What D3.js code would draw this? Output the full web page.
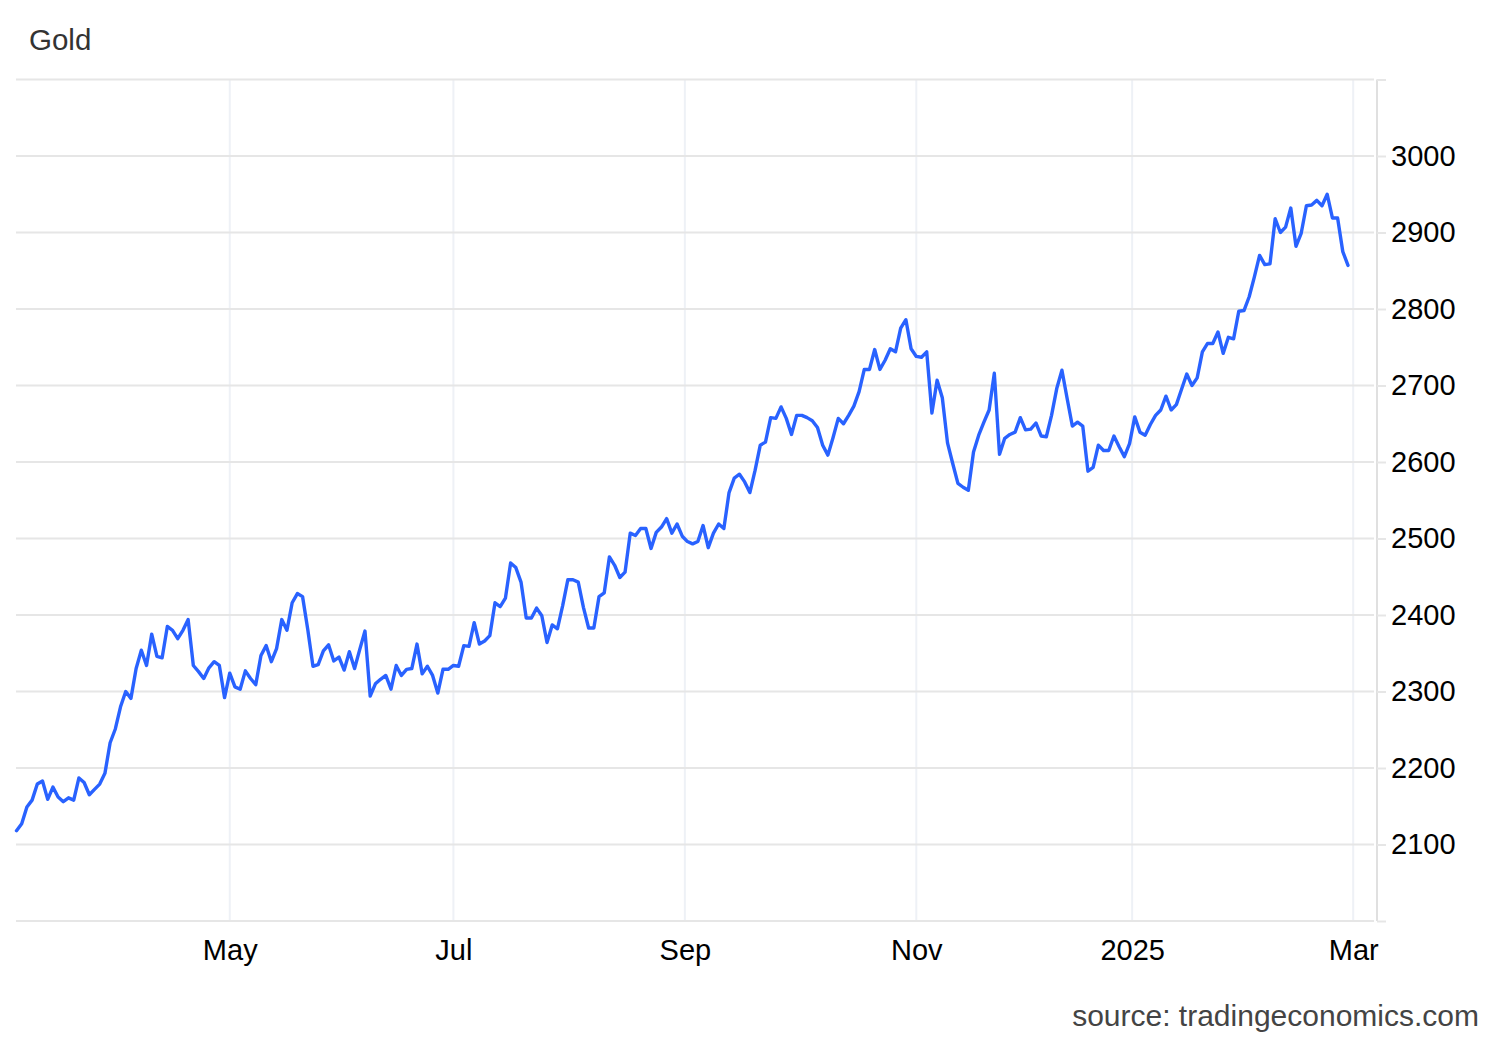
<!DOCTYPE html>
<html><head><meta charset="utf-8">
<script src="https://cdn.jsdelivr.net/npm/d3@7"></script>
<style>
body{margin:0;background:#fff}
svg{display:block}
text{font-family:"Liberation Sans", Arial, Helvetica, sans-serif}
</style>
</head><body>
<svg id="chart" width="1500" height="1040"></svg>
<script>
// ---- data ----
const title = "Gold";
const sourceText = "source: tradingeconomics.com";

const dates = [
"2024-03-04","2024-03-05","2024-03-06","2024-03-07","2024-03-08","2024-03-11","2024-03-12","2024-03-13","2024-03-14","2024-03-15","2024-03-18","2024-03-19","2024-03-20","2024-03-21","2024-03-22","2024-03-25","2024-03-26","2024-03-27","2024-03-28",
"2024-04-01","2024-04-02","2024-04-03","2024-04-04","2024-04-05","2024-04-08","2024-04-09","2024-04-10","2024-04-11","2024-04-12","2024-04-15","2024-04-16","2024-04-17","2024-04-18","2024-04-19","2024-04-22","2024-04-23","2024-04-24","2024-04-25","2024-04-26","2024-04-29","2024-04-30",
"2024-05-01","2024-05-02","2024-05-03","2024-05-06","2024-05-07","2024-05-08","2024-05-09","2024-05-10","2024-05-13","2024-05-14","2024-05-15","2024-05-16","2024-05-17","2024-05-20","2024-05-21","2024-05-22","2024-05-23","2024-05-24","2024-05-27","2024-05-28","2024-05-29","2024-05-30","2024-05-31",
"2024-06-03","2024-06-04","2024-06-05","2024-06-06","2024-06-07","2024-06-10","2024-06-11","2024-06-12","2024-06-13","2024-06-14","2024-06-17","2024-06-18","2024-06-19","2024-06-20","2024-06-21","2024-06-24","2024-06-25","2024-06-26","2024-06-27","2024-06-28",
"2024-07-01","2024-07-02","2024-07-03","2024-07-04","2024-07-05","2024-07-08","2024-07-09","2024-07-10","2024-07-11","2024-07-12","2024-07-15","2024-07-16","2024-07-17","2024-07-18","2024-07-19","2024-07-22","2024-07-23","2024-07-24","2024-07-25","2024-07-26","2024-07-29","2024-07-30","2024-07-31",
"2024-08-01","2024-08-02","2024-08-05","2024-08-06","2024-08-07","2024-08-08","2024-08-09","2024-08-12","2024-08-13","2024-08-14","2024-08-15","2024-08-16","2024-08-19","2024-08-20","2024-08-21","2024-08-22","2024-08-23","2024-08-26","2024-08-27","2024-08-28","2024-08-29","2024-08-30",
"2024-09-02","2024-09-03","2024-09-04","2024-09-05","2024-09-06","2024-09-09","2024-09-10","2024-09-11","2024-09-12","2024-09-13","2024-09-16","2024-09-17","2024-09-18","2024-09-19","2024-09-20","2024-09-23","2024-09-24","2024-09-25","2024-09-26","2024-09-27","2024-09-30",
"2024-10-01","2024-10-02","2024-10-03","2024-10-04","2024-10-07","2024-10-08","2024-10-09","2024-10-10","2024-10-11","2024-10-14","2024-10-15","2024-10-16","2024-10-17","2024-10-18","2024-10-21","2024-10-22","2024-10-23","2024-10-24","2024-10-25","2024-10-28","2024-10-29","2024-10-30","2024-10-31",
"2024-11-01","2024-11-04","2024-11-05","2024-11-06","2024-11-07","2024-11-08","2024-11-11","2024-11-12","2024-11-13","2024-11-14","2024-11-15","2024-11-18","2024-11-19","2024-11-20","2024-11-21","2024-11-22","2024-11-25","2024-11-26","2024-11-27","2024-11-28","2024-11-29",
"2024-12-02","2024-12-03","2024-12-04","2024-12-05","2024-12-06","2024-12-09","2024-12-10","2024-12-11","2024-12-12","2024-12-13","2024-12-16","2024-12-17","2024-12-18","2024-12-19","2024-12-20","2024-12-23","2024-12-24","2024-12-26","2024-12-27","2024-12-30","2024-12-31",
"2025-01-02","2025-01-03","2025-01-06","2025-01-07","2025-01-08","2025-01-09","2025-01-10","2025-01-13","2025-01-14","2025-01-15","2025-01-16","2025-01-17","2025-01-20","2025-01-21","2025-01-22","2025-01-23","2025-01-24","2025-01-27","2025-01-28","2025-01-29","2025-01-30","2025-01-31",
"2025-02-03","2025-02-04","2025-02-05","2025-02-06","2025-02-07","2025-02-10","2025-02-11","2025-02-12","2025-02-13","2025-02-14","2025-02-17","2025-02-18","2025-02-19","2025-02-20","2025-02-21","2025-02-24","2025-02-25","2025-02-26","2025-02-27","2025-02-28"
];

const prices = [
2118,2127,2149,2158,2179,2183,2159,2175,2162,2156,2161,2158,2187,2181,2165,2172,2179,2193,2233,
2251,2280,2300,2291,2330,2354,2334,2375,2346,2344,2385,2380,2369,2380,2394,2334,2326,2317,2331,2339,2334,2292,
2324,2306,2303,2327,2317,2309,2347,2360,2339,2356,2394,2380,2416,2428,2424,2381,2333,2335,2353,2361,2340,2345,2328,
2352,2330,2355,2379,2294,2310,2316,2321,2303,2334,2321,2329,2330,2362,2323,2333,2321,2298,2329,2329,
2334,2333,2360,2359,2390,2362,2366,2373,2416,2411,2422,2468,2462,2443,2396,2396,2409,2399,2364,2387,2382,2412,2446,
2446,2443,2410,2383,2383,2424,2429,2476,2465,2449,2456,2507,2504,2513,2513,2487,2508,2515,2526,2507,2519,2503,
2496,2493,2496,2517,2488,2507,2519,2513,2560,2579,2584,2574,2560,2589,2622,2626,2658,2657,2672,2657,2636,
2661,2661,2658,2654,2645,2622,2609,2632,2657,2650,2661,2673,2692,2721,2721,2747,2721,2733,2748,2744,2775,2786,2748,
2738,2737,2744,2664,2707,2684,2625,2598,2572,2567,2563,2613,2635,2652,2668,2716,2610,2631,2636,2639,2658,
2642,2643,2651,2634,2633,2661,2696,2720,2683,2647,2652,2647,2588,2593,2622,2615,2615,2634,2620,2607,2624,
2659,2639,2635,2649,2661,2668,2686,2668,2675,2695,2715,2700,2710,2744,2755,2755,2770,2742,2763,2761,2797,2798,
2816,2842,2870,2858,2859,2918,2900,2907,2932,2882,2899,2935,2936,2942,2935,2950,2919,2919,2875,2857
];

const yGridValues = [2000,2100,2200,2300,2400,2500,2600,2700,2800,2900,3000,3100];
const yTickLabels = [2100,2200,2300,2400,2500,2600,2700,2800,2900,3000];
const monthLabels = ["May","Jul","Sep","Nov","2025","Mar"];
const monthStarts = ["2024-05-01","2024-07-01","2024-09-01","2024-11-01","2025-01-01","2025-03-01"];

// ---- layout ----
const plotLeft = 16, plotRight = 1374, plotTop = 79.5, plotBottom = 921;
const axisX = 1377;

const svg = d3.select("#chart");

const x = d3.scaleLinear().domain([0, dates.length - 1]).range([16.5, 1348]);
const y = d3.scaleLinear().domain([2000, 3100]).range([plotBottom, plotTop]);

// month tick positions on the trading-day index scale
const monthIdx = monthStarts.map(ms => {
  const i = dates.findIndex(d => d >= ms);
  if (i < 0) return dates.length;
  return dates[i] === ms ? i : i - 0.5;
});

// vertical grid
svg.append("g").selectAll("line").data(monthIdx).join("line")
  .attr("x1", d => x(d)).attr("x2", d => x(d))
  .attr("y1", plotTop).attr("y2", plotBottom)
  .attr("stroke", "#eef1f6").attr("stroke-width", 2);

// horizontal grid
svg.append("g").selectAll("line").data(yGridValues).join("line")
  .attr("x1", plotLeft).attr("x2", plotRight)
  .attr("y1", d => y(d)).attr("y2", d => y(d))
  .attr("stroke", "#e6e6e6").attr("stroke-width", 2);

// right axis
const yAxis = d3.axisRight(y).tickValues(yGridValues).tickSize(9).tickSizeOuter(0).tickPadding(5)
  .tickFormat(d => yTickLabels.includes(d) ? String(d) : "");
const ga = svg.append("g").attr("transform", `translate(${axisX},0)`).call(yAxis);
ga.select(".domain").attr("stroke", "#e0e0e0").attr("stroke-width", 2)
  .attr("d", `M0,${plotTop}V${plotBottom}`);
ga.selectAll(".tick line").attr("stroke", "#e6e6e6").attr("stroke-width", 2);
ga.selectAll(".tick text").attr("font-size", 29).attr("fill", "#000")
  .style("font-family", '"Liberation Sans", Arial, sans-serif');

// bottom axis
const xAxis = d3.axisBottom(x).tickValues(monthIdx).tickSize(0).tickPadding(18)
  .tickFormat((d, i) => monthLabels[i]);
const gx = svg.append("g").attr("transform", `translate(0,${plotBottom})`).call(xAxis);
gx.select(".domain").remove();
gx.selectAll(".tick text").attr("font-size", 29).attr("fill", "#000")
  .style("font-family", '"Liberation Sans", Arial, sans-serif');

// line
const line = d3.line().x((d, i) => x(i)).y(d => y(d));
svg.append("path").datum(prices)
  .attr("d", line)
  .attr("fill", "none")
  .attr("stroke", "#2962ff")
  .attr("stroke-width", 3.4)
  .attr("stroke-linejoin", "round")
  .attr("stroke-linecap", "round");

// title and source
svg.append("text").attr("x", 29).attr("y", 50).attr("font-size", 29.5).attr("fill", "#333").text(title);
svg.append("text").attr("x", 1479).attr("y", 1026).attr("text-anchor", "end")
  .attr("font-size", 30).attr("fill", "#444").text(sourceText);
</script>
</body></html>
